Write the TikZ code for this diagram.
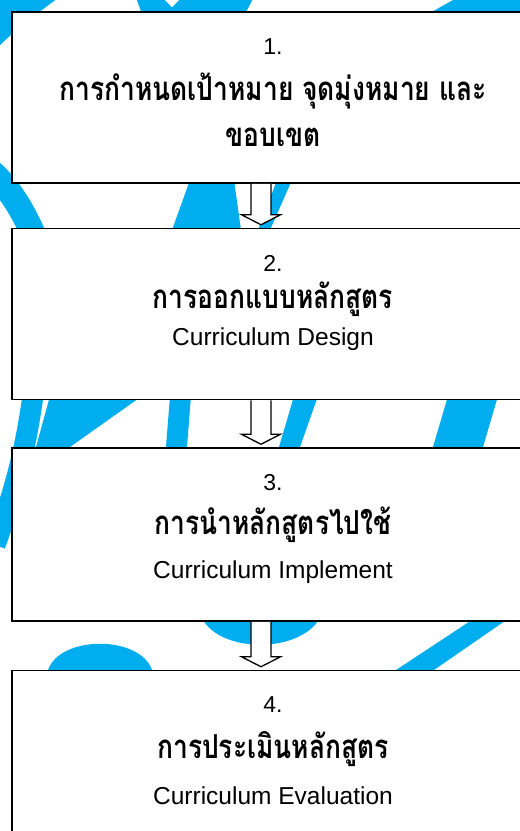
\documentclass[tikz,border=0pt]{standalone}
\usepackage{fontspec}
\setmainfont{Liberation Sans}
\newfontfamily\thaifont[Script=Thai,FakeStretch=0.8]{Loma}
\usetikzlibrary{positioning,calc}
\definecolor{SwooshBlue}{RGB}{0,174,239}

\newcommand{\stagenum}[1]{{\fontsize{23}{23}\selectfont #1}}
\newcommand{\stagethai}[1]{{\thaifont\bfseries\fontsize{33}{33}\selectfont #1}}
\newcommand{\stageeng}[1]{{\fontsize{24.5}{24.5}\selectfont #1}}

\tikzset{
  swoosh/.style={fill=SwooshBlue},
  stagebox/.style={draw=black,line width=1.5pt,fill=white,minimum width=522pt,minimum height=171pt,inner sep=0pt},
  stagetext/.style={anchor=north,inner sep=0pt,align=center,yshift=-27pt},
  blockarrow/.style={draw=black,line width=1.3pt,fill=white,
    to path={let \p1=(\tikztostart),\p2=(\tikztotarget) in
      ({\x1-10pt},\y1) -- ({\x1-10pt},{\y2+13pt}) -- ({\x1-19.5pt},{\y2+13pt})
      -- (\x1,{\y2+3pt}) -- ({\x1+19.5pt},{\y2+13pt}) -- ({\x1+10pt},{\y2+13pt})
      -- ({\x1+10pt},\y1)}}
}

\begin{document}
\begin{tikzpicture}[x=1pt,y=-1pt]
\useasboundingbox (0,0) rectangle (520,831);
\clip (0,0) rectangle (520,831);
% background swooshes
\fill[swoosh] (-5,-5) -- (62,-5) .. controls (45,8) and (20,25) .. (-5,50) -- cycle;
\fill[swoosh] (135,-5) -- (255,-5) -- (245,14) -- (142,14) -- cycle;
\fill[white] (160,-5) -- (184,-5) -- (172,7) -- cycle;
\fill[swoosh] (428,14) -- (462,-5) -- (525,-5) -- (525,14) -- cycle;
\draw[SwooshBlue,line width=25pt] (-25,160) .. controls (0,175) and (20,200) .. (40,250);
\fill[swoosh] (190,180) -- (234,180) -- (241,230) -- (172,230) -- cycle;
\fill[swoosh] (277,180) -- (292,180) -- (270,230) -- (258,230) -- cycle;
\draw[SwooshBlue,line width=21pt] (36,370) .. controls (28,445) and (15,490) .. (-5,545);
\fill[swoosh] (50,396) -- (142,396) -- (70,447) -- (36,447) -- cycle;
\fill[swoosh] (170,396) -- (191,396) -- (187,447) -- (166,447) -- cycle;
\fill[swoosh] (294,396) -- (318,396) -- (300,447) -- (279,447) -- cycle;
\fill[swoosh] (448,396) -- (498,396) -- (483,447) -- (433,447) -- cycle;
\fill[swoosh] (200,614) .. controls (215,655) and (305,655) .. (322,614) -- cycle;
\fill[swoosh] (48,670) .. controls (60,635) and (140,635) .. (152,670) -- cycle;
\fill[swoosh] (481,614) -- (515,614) -- (434,670) -- (396,670) -- cycle;
% stages
\node[stagebox,label={[stagetext,font=\fontsize{23}{46}\selectfont]north:{\stagenum{1.}\\
  \stagethai{การกำหนดเป้าหมาย จุดมุ่งหมาย และ}\\ \stagethai{ขอบเขต}}}] (b1) at (273,97.5) {};
\node[stagebox,below=44pt of b1,label={[stagetext,font=\fontsize{23}{37}\selectfont]north:{\stagenum{2.}\\
  \stagethai{การออกแบบหลักสูตร}\\ \stageeng{Curriculum Design}}}] (b2) {};
\node[stagebox,below=47pt of b2,minimum height=173pt,label={[stagetext,font=\fontsize{23}{44}\selectfont]north:{\stagenum{3.}\\
  \stagethai{การนำหลักสูตรไปใช้}\\ \stageeng{Curriculum Implement}}}] (b3) {};
\node[stagebox,below=48pt of b3,label={[stagetext,font=\fontsize{23}{46}\selectfont]north:{\stagenum{4.}\\
  \stagethai{การประเมินหลักสูตร}\\ \stageeng{Curriculum Evaluation}}}] (b4) {};
% arrows
\draw[blockarrow] ([xshift=-12pt]b1.south) to ([xshift=-12pt]b2.north);
\draw[blockarrow] ([xshift=-12pt]b2.south) to ([xshift=-12pt]b3.north);
\draw[blockarrow] ([xshift=-12pt]b3.south) to ([xshift=-12pt]b4.north);
\end{tikzpicture}
\end{document}
